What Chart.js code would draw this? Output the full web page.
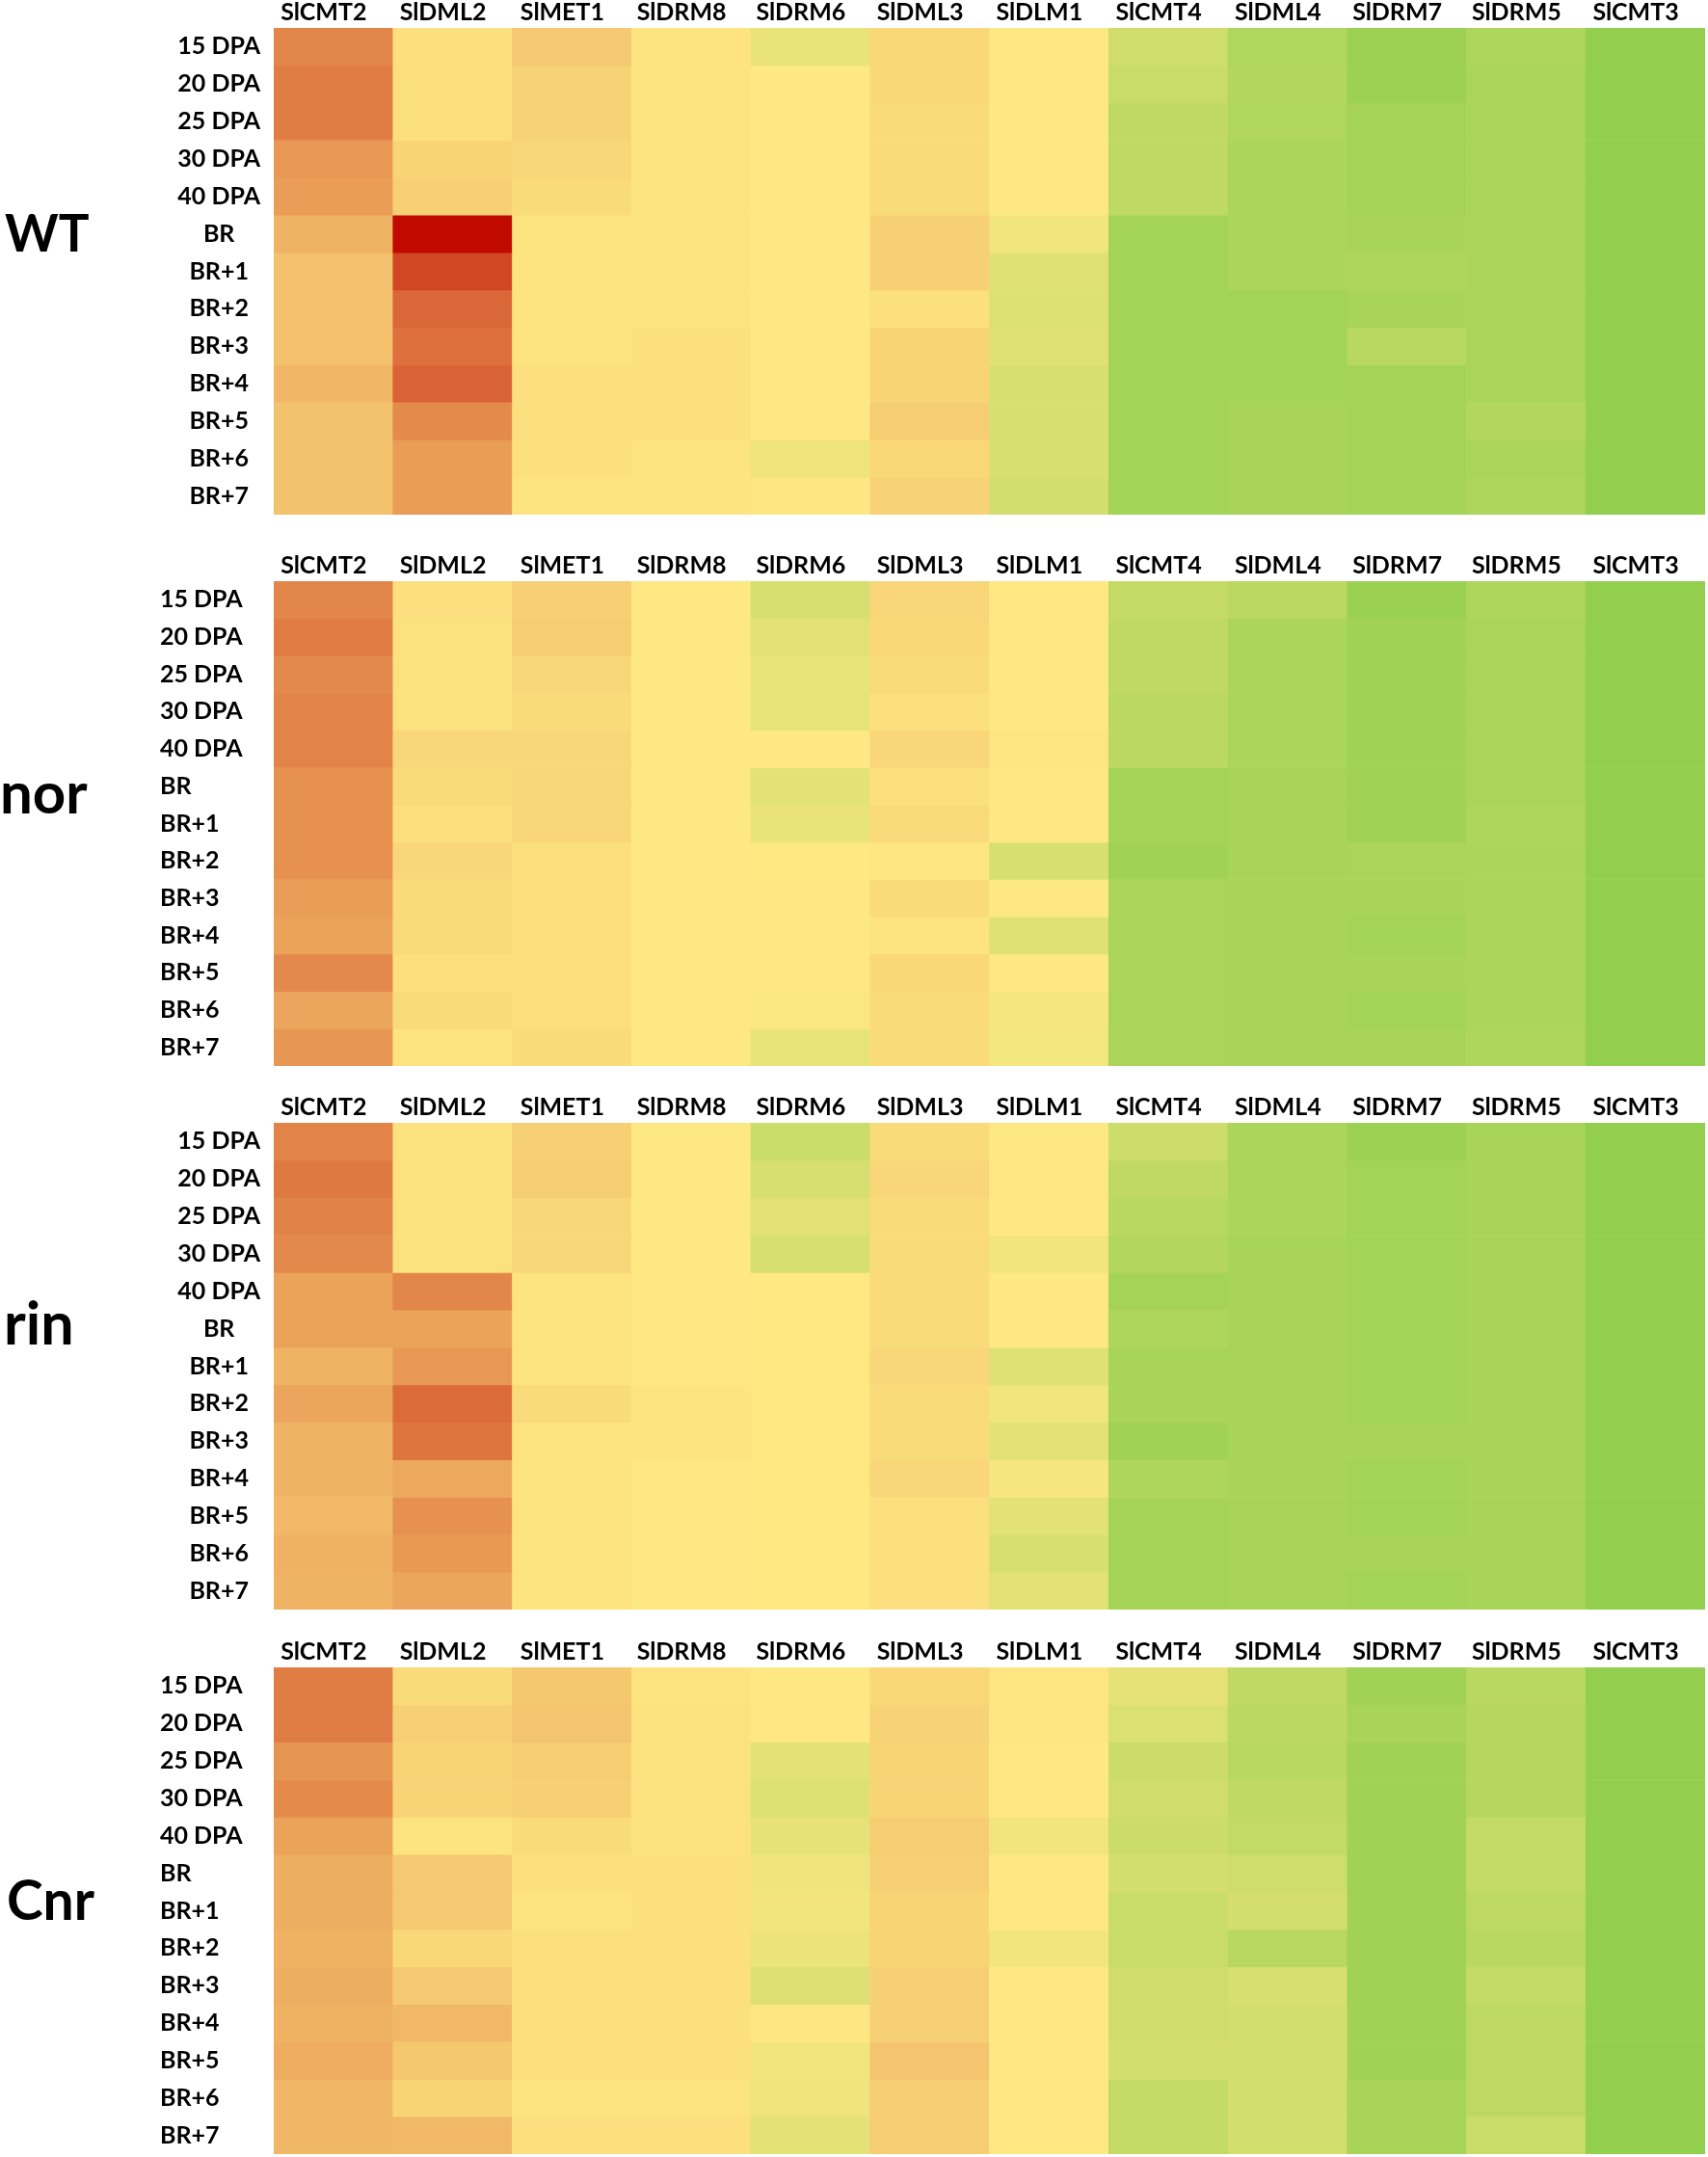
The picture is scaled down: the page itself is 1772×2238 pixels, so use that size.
<!DOCTYPE html>
<html>
<head>
<meta charset="utf-8">
<script src="https://cdn.jsdelivr.net/npm/chart.js@4.4.1/dist/chart.umd.min.js"></script>
<style>
	body { margin: 0; background: #fff; }
	#page { position: relative; width: 1772px; height: 2238px; }
	canvas { position: absolute; left: 0; }
	.tag { position: absolute; font-family: Lato, 'Open Sans', sans-serif; font-weight: bold; line-height: 1; color: #000; }
</style>
</head>
<body>
<div id="page">
	<div class="tag" style="left:5px; top:214px; font-size:53px;">WT</div>
	<div class="tag" style="left:0px; top:791px; font-size:60px;">nor</div>
	<div class="tag" style="left:4px; top:1341px; font-size:61px;">rin</div>
	<div class="tag" style="left:7px; top:1942px; font-size:57px;">Cnr</div>
	<canvas id="wtChart" width="1772" height="536" style="top:-1px"></canvas>
	<canvas id="norChart" width="1772" height="534" style="top:573px"></canvas>
	<canvas id="rinChart" width="1772" height="536" style="top:1135px"></canvas>
	<canvas id="cnrChart" width="1772" height="536" style="top:1700px"></canvas>
</div>
<script>

const genes = ['SlCMT2', 'SlDML2', 'SlMET1', 'SlDRM8', 'SlDRM6', 'SlDML3', 'SlDLM1', 'SlCMT4', 'SlDML4', 'SlDRM7', 'SlDRM5', 'SlCMT3'];
const stages = ['15 DPA', '20 DPA', '25 DPA', '30 DPA', '40 DPA', 'BR', 'BR+1', 'BR+2', 'BR+3', 'BR+4', 'BR+5', 'BR+6', 'BR+7'];

// relative level per cell: 0 = green, 50 = yellow, 100 = dark red (one row per stage)
const wt = [
	[72, 52, 57, 51, 41, 53.5, 50, 28.5, 15, 6, 14, 2],
	[74, 52, 55, 51, 50, 53.5, 50, 26, 16, 6, 12, 2],
	[74, 52, 55, 51, 50, 53, 50, 22, 15, 10, 12, 2],
	[68, 54.5, 54, 51, 50, 53, 50, 21, 13, 10, 12, 1.5],
	[67, 55.5, 53, 51, 50, 53, 50, 21, 13, 10, 12, 1.5],
	[62, 100, 51, 51, 50, 55.5, 44, 9, 12.5, 11, 12, 1.5],
	[59, 86.5, 51, 51, 50, 55.5, 36, 9, 12.5, 14, 12, 1.5],
	[59, 79, 51, 51, 50, 52, 35, 9, 9, 11, 12, 1.5],
	[59, 77, 51, 52, 50, 54.5, 36, 9, 9, 18.5, 12, 1.5],
	[61, 80, 52, 52, 50, 54.5, 33, 9, 9, 10, 12, 1.5],
	[58.5, 71, 52, 52, 50, 56, 33, 9, 11, 10, 16, 1.5],
	[58.5, 67, 52, 51, 43, 53.5, 33, 9, 11, 10, 12, 1.5],
	[58.5, 67, 51, 51, 49, 55, 31, 9, 11, 10, 14, 1.5]
];

const nor = [
	[72, 52, 55.5, 50, 33, 54, 50, 24, 19.5, 5, 14, 1.5],
	[74.5, 51.5, 56, 50, 37, 53.5, 50, 22, 13, 8, 12, 1.5],
	[71.5, 51.5, 54, 50, 40.5, 53, 50, 22, 13, 8, 12, 1.5],
	[72.5, 51.5, 53, 50, 39.5, 52, 50, 20, 13, 8, 12, 1.5],
	[72.5, 54, 54, 50, 50, 54, 50.5, 20, 13, 8, 12, 1.5],
	[69.5, 53, 54, 50, 37.5, 52, 50, 9.5, 11, 8, 12, 1.5],
	[69.5, 52, 54, 50, 41, 53, 50, 9.5, 11, 8, 14, 1.5],
	[69.5, 54, 52, 50, 49.5, 50.5, 33, 8, 11, 12, 12.5, 1.5],
	[67, 53, 52, 50, 50, 53, 50, 12, 11, 11, 12.5, 1.5],
	[65.5, 53, 52, 50, 50, 51, 36, 12, 11, 9, 12.5, 1.5],
	[71.5, 52, 52, 50, 50, 53.5, 50, 12, 11, 11, 12.5, 1.5],
	[65, 53, 52, 50, 48.5, 53, 46, 12, 11, 9, 12.5, 1.5],
	[68.5, 51, 53, 50, 39.5, 53, 45.5, 12, 11, 11, 14, 1.5]
];

const rin = [
	[72.5, 51.5, 55.5, 50, 26.5, 53, 50, 28, 13, 6, 11, 1.5],
	[75, 51.5, 56, 50, 33, 54, 50, 22, 13, 9, 11, 1.5],
	[73, 51.5, 54, 50, 37, 53, 50, 18.5, 13, 9, 11, 1.5],
	[71.5, 51.5, 54, 50, 33, 53, 45, 16, 11, 9, 11, 1.5],
	[65.5, 72, 51, 50, 49.5, 53, 50, 10, 11, 9, 11, 1.5],
	[65.5, 65.5, 51, 50, 49.5, 53, 50, 14, 11, 9, 11, 1.5],
	[62, 68, 51, 50, 49.5, 54, 36, 11, 11, 9, 11, 1.5],
	[65, 78, 53, 51, 49.5, 53, 44, 11, 11, 9, 11, 1.5],
	[62, 76, 51, 51, 49.5, 53, 38, 8, 11, 11, 11, 1.5],
	[62, 64.5, 51, 50, 49.5, 54, 47, 14, 11, 9, 11, 1.5],
	[60.5, 69.5, 51, 50, 49.5, 52, 37.5, 10, 11, 9, 11, 1.5],
	[62.5, 67.5, 51, 50, 49.5, 52, 33, 10, 11, 11, 11, 1.5],
	[62, 65, 51, 50, 49.5, 52, 38, 10, 11, 9, 11, 1.5]
];

const cnr = [
	[74, 53, 57.5, 51, 50, 53.5, 50.5, 39, 22, 8, 18.5, 1.5],
	[74, 55.5, 58, 51.5, 50, 55, 50.5, 34, 20, 11, 17, 1.5],
	[69, 54.5, 56, 51.5, 37.5, 54.5, 50, 27.5, 18.5, 8, 17, 1.5],
	[71, 54.5, 55.5, 51.5, 35, 54.5, 50, 29.5, 22, 8, 17, 1.5],
	[65.5, 51, 53, 51.5, 39, 56, 45, 27, 24, 8, 24, 1.5],
	[63, 57, 52, 52, 43.5, 55.5, 50, 31, 29, 8, 24, 1.5],
	[63, 57, 51, 52, 44.5, 54.5, 50, 26, 31, 8, 20.5, 1.5],
	[62.5, 53.5, 52, 52, 42, 54.5, 45, 26, 19, 8, 19, 1.5],
	[63, 57, 52, 52, 35.5, 55.5, 50, 29.5, 33, 8, 24, 1.5],
	[62.5, 60.5, 52, 52, 49, 55.5, 50, 29.5, 31, 8, 20.5, 1.5],
	[63.5, 57.5, 52, 52, 45, 58, 50, 31, 31, 8, 20.5, 1.5],
	[61, 54.5, 51, 51, 43, 56, 50, 24, 31, 11, 20.5, 1.5],
	[61, 60.5, 52, 52, 38, 56, 50, 24, 31, 11, 26, 1.5]
];

const labelFont = { family: 'Lato, "Open Sans", sans-serif', size: 25, weight: 'bold' };

function heatColor(v) {

	let lo = [143, 206, 77], mid = [254, 232, 131], hi = [192, 10, 0];
	let a, b, t;
	if (v <= 50) { a = lo; b = mid; t = v / 50; }
	else { a = mid; b = hi; t = (v - 50) / 50; }
	let c = a.map((x, i) => Math.round(x + (b[i] - x) * t));
	return 'rgb(' + c.join(',') + ')';

}

function addHeatmap(id, rows, align) {

	let far = align === 'far';
	let ctx = document.getElementById(id).getContext('2d');
	new Chart(ctx, {
		type: 'bar',
		data: {
			labels: genes,
			datasets: rows.map((row, i) => ({
				label: stages[i],
				data: genes.map(() => 1),
				backgroundColor: row.map(heatColor),
				borderWidth: 0,
				barPercentage: 1,
				categoryPercentage: 1,
			})),
		},
		options: {
			responsive: false,
			animation: false,
			layout: { padding: { left: far ? 166 : 0, right: 3, top: 0, bottom: 1 } },
			plugins: {
				legend: { display: false },
				tooltip: { enabled: false },
			},
			scales: {
				x: {
					position: 'top',
					stacked: true,
					grid: { display: false, drawTicks: false },
					border: { display: false },
					ticks: { color: '#000', font: labelFont, padding: 1, labelOffset: -10, maxRotation: 0, autoSkip: false },
					afterFit: (s) => { s.height = 30; s.paddingLeft = 0; s.paddingRight = 0; },
				},
				y: {
					type: 'linear',
					stacked: true,
					reverse: true,
					min: 0,
					max: 13,
					grid: { display: false, drawTicks: false },
					border: { display: false },
					afterBuildTicks: (s) => { s.ticks = stages.map((_, i) => ({ value: i + 0.5 })); },
					ticks: {
						color: '#000',
						font: labelFont,
						padding: 14,
						autoSkip: false,
						crossAlign: far ? 'far' : 'center',
						callback: (v, i) => stages[i],
					},
					afterFit: (s) => {
						s.width = far ? 118 : 284;
						s.paddingTop = 0;
						s.paddingBottom = 0;
					},
				},
			},
		},
	});

}

addHeatmap('wtChart', wt, 'center');
addHeatmap('norChart', nor, 'far');
addHeatmap('rinChart', rin, 'center');
addHeatmap('cnrChart', cnr, 'far');

</script>
</body>
</html>
